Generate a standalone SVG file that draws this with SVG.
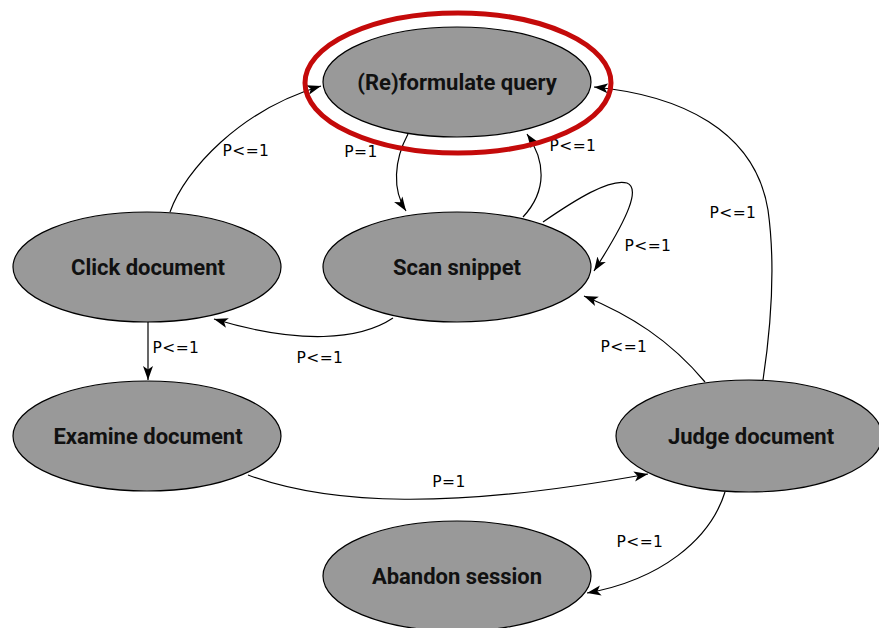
<svg xmlns="http://www.w3.org/2000/svg" width="879" height="628" viewBox="0 0 879 628">
<defs>
<marker id="arr" markerUnits="userSpaceOnUse" markerWidth="16" markerHeight="12" refX="14" refY="5.5" orient="auto">
<path d="M0,0.5 L14,5.5 L0,10.5 L3.5,5.5 Z" fill="#000"/>
</marker>
<style>
.node ellipse{fill:#999999;stroke:#000;stroke-width:1.2}
.node text{font-family:Roboto,"Liberation Sans",sans-serif;font-weight:bold;font-size:22px;fill:#111;text-anchor:middle;dominant-baseline:central}
#connectors path{fill:none;stroke:#000;stroke-width:1.2;marker-end:url(#arr)}
.lbl{font-family:"DejaVu Sans",sans-serif;font-size:15.5px;fill:#000;text-anchor:middle;dominant-baseline:central;letter-spacing:0.4px}
</style>
</defs>
<rect width="879" height="628" fill="#fff"/>
<g id="connectors">
<path d="M170,212 C185,170 240,110 321,86"/>
<path d="M408,134 C394,160 392,190 406,211"/>
<path d="M523,217 C548,190 545,160 527,134"/>
<path d="M543,222 C575,200 610,178 627,183 C640,188 630,215 594,271"/>
<path d="M705,382 C670,340 630,315 584,296"/>
<path d="M763,380 C772,320 775,260 768,210 C755,130 680,95 594,87"/>
<path d="M393,318 C360,340 300,345 214,319"/>
<path d="M148,322 L148,380"/>
<path d="M248,475 C330,505 450,510 648,474"/>
<path d="M725,492 C710,540 660,580 587,593"/>
</g>
<g id="labels">
<text class="lbl" x="246" y="151">P&lt;=1</text>
<text class="lbl" x="361" y="152">P=1</text>
<text class="lbl" x="573" y="146">P&lt;=1</text>
<text class="lbl" x="648" y="246">P&lt;=1</text>
<text class="lbl" x="624" y="347">P&lt;=1</text>
<text class="lbl" x="733" y="213">P&lt;=1</text>
<text class="lbl" x="320" y="358">P&lt;=1</text>
<text class="lbl" x="176" y="348">P&lt;=1</text>
<text class="lbl" x="449" y="482">P=1</text>
<text class="lbl" x="640" y="542">P&lt;=1</text>
</g>
<g id="reformulate" class="node">
<ellipse cx="457" cy="82" rx="134" ry="55"/>
<text x="457" y="82">(Re)formulate query</text>
</g>
<ellipse id="highlight" cx="458" cy="83" rx="153" ry="70" fill="none" stroke="#c40a0a" stroke-width="5"/>
<g id="click" class="node">
<ellipse cx="147" cy="267" rx="134" ry="55"/>
<text x="148" y="267">Click document</text>
</g>
<g id="scan" class="node">
<ellipse cx="457" cy="267" rx="134" ry="55"/>
<text x="457" y="267">Scan snippet</text>
</g>
<g id="examine" class="node">
<ellipse cx="147" cy="436" rx="134" ry="55"/>
<text x="148" y="436">Examine document</text>
</g>
<g id="judge" class="node">
<ellipse cx="749" cy="436" rx="133" ry="56"/>
<text x="751" y="436">Judge document</text>
</g>
<g id="abandon" class="node">
<ellipse cx="457" cy="576" rx="134" ry="55"/>
<text x="457" y="576">Abandon session</text>
</g>
</svg>
